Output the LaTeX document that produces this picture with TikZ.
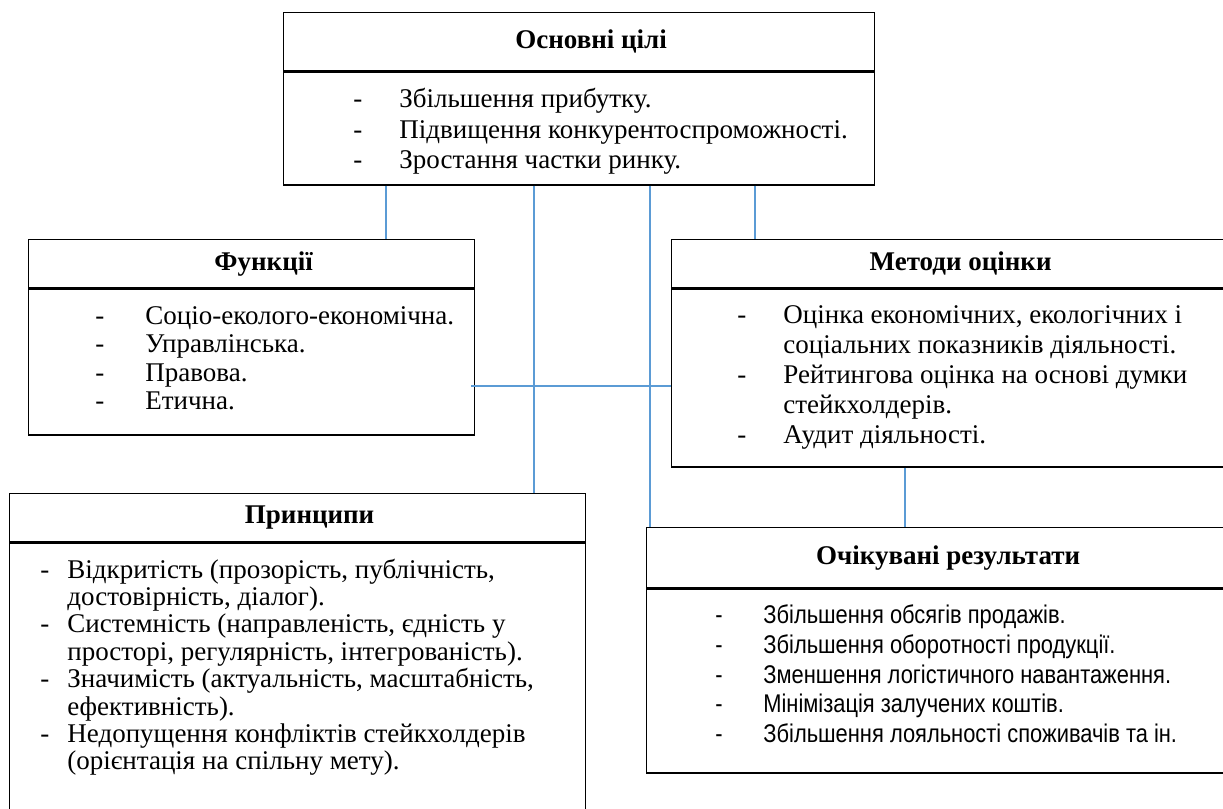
\documentclass[tikz,border=0pt]{standalone}
\usepackage{fontspec}
\setmainfont{Liberation Serif}
\newfontfamily\arialfont[FakeStretch=0.855]{Liberation Sans}
\usepackage{xcolor}
\usetikzlibrary{positioning}

\definecolor{linkblue}{RGB}{91,155,213}

\tikzset{
  head/.style={draw, rectangle, line width=0.65pt, inner sep=0pt, minimum height=24pt,
    font=\fontsize{13.5}{15}\selectfont\bfseries, execute at begin node=\hspace*{12pt}},
  body/.style={draw, rectangle, line width=0.65pt, inner sep=0pt},
  list/.style={anchor=north west, inner sep=0pt, align=left},
  link/.style={draw=linkblue, line width=0.6pt},
}

\begin{document}
\begin{tikzpicture}[x=0.5pt, y=-0.5pt]
    \useasboundingbox (0,0) rectangle (1223,809);

    % boxes
    \node (goalshead) [head, anchor=north west, minimum width=295.5pt, minimum height=29pt] at (283,12) {Основні цілі};
    \node (goalsbody) [body, minimum width=295.5pt, minimum height=56.5pt, below=0pt of goalshead] {};

    \node (funchead) [head, anchor=north west, minimum width=223pt] at (28,239) {Функції};
    \node (funcbody) [body, minimum width=223pt, minimum height=73pt, below=0pt of funchead] {};

    \node (methhead) [head, anchor=north west, minimum width=277pt] at (671,239) {Методи оцінки};
    \node (methbody) [body, minimum width=277pt, minimum height=89pt, below=0pt of methhead] {};

    \node (princhead) [head, anchor=north west, minimum width=288pt] at (9,493) {Принципи};
    \node (princbody) [body, minimum width=288pt, minimum height=140pt, below=0pt of princhead] {};

    \node (reshead) [head, anchor=north west, minimum width=289.5pt, minimum height=30pt] at (646,527) {Очікувані результати};
    \node (resbody) [body, minimum width=289.5pt, minimum height=92pt, below=0pt of reshead] {};

    % texts
    \node (goalslist) [list, font=\fontsize{13.5}{15.25}\selectfont] at ([xshift=35pt, yshift=-7.3pt]goalsbody.north west) {%
      \begin{tabular}{@{}p{23pt}@{}l@{}}
        - & Збільшення прибутку.\\
        - & Підвищення конкурентоспроможності.\\
        - & Зростання частки ринку.
      \end{tabular}};

    \node (funclist) [list, font=\fontsize{13.5}{14.15}\selectfont] at ([xshift=33.5pt, yshift=-8pt]funcbody.north west) {%
      \begin{tabular}{@{}p{25pt}@{}l@{}}
        - & Соціо-еколого-економічна.\\
        - & Управлінська.\\
        - & Правова.\\
        - & Етична.
      \end{tabular}};

    \node (methlist) [list, font=\fontsize{13.5}{15}\selectfont] at ([xshift=33pt, yshift=-7pt]methbody.north west) {%
      \begin{tabular}{@{}p{23pt}@{}l@{}}
        - & Оцінка економічних, екологічних і\\
          & соціальних показників діяльності.\\
        - & Рейтингова оцінка на основі думки\\
          & стейкхолдерів.\\
        - & Аудит діяльності.
      \end{tabular}};

    \node (princlist) [list, font=\fontsize{13.5}{13.7}\selectfont] at ([xshift=15.5pt, yshift=-8pt]princbody.north west) {%
      \begin{tabular}{@{}p{13.5pt}@{}l@{}}
        - & Відкритість (прозорість, публічність,\\
          & достовірність, діалог).\\
        - & Системність (направленість, єдність у\\
          & просторі, регулярність, інтегрованість).\\
        - & Значимість (актуальність, масштабність,\\
          & ефективність).\\
        - & Недопущення конфліктів стейкхолдерів\\
          & (орієнтація на спільну мету).
      \end{tabular}};

    \node (reslist) [list, font=\arialfont\fontsize{12.8}{14.9}\selectfont] at ([xshift=34.5pt, yshift=-7pt]resbody.north west) {%
      \begin{tabular}{@{}p{24pt}@{}l@{}}
        - & Збільшення обсягів продажів.\\
        - & Збільшення оборотності продукції.\\
        - & Зменшення логістичного навантаження.\\
        - & Мінімізація залучених коштів.\\
        - & Збільшення лояльності споживачів та ін.
      \end{tabular}};

    % connectors
    \draw[link] ([xshift=51.5pt]goalsbody.south west) -- ([xshift=51.5pt]goalsbody.south west |- funchead.north);
    \draw[link] ([xshift=125.5pt]goalsbody.south west) -- ([xshift=125.5pt]goalsbody.south west |- princhead.north);
    \draw[link] ([xshift=183.5pt]goalsbody.south west) -- ([xshift=183.5pt]goalsbody.south west |- reshead.north);
    \draw[link] ([xshift=236pt]goalsbody.south west) -- ([xshift=236pt]goalsbody.south west |- methhead.north);
    \draw[link] ([xshift=-2pt, yshift=-12pt]funcbody.east) -- ([yshift=-12pt]funcbody.east -| methbody.west);
    \draw[link] ([xshift=117pt]methbody.south west) -- ([xshift=117pt]methbody.south west |- reshead.north);
\end{tikzpicture}
\end{document}
